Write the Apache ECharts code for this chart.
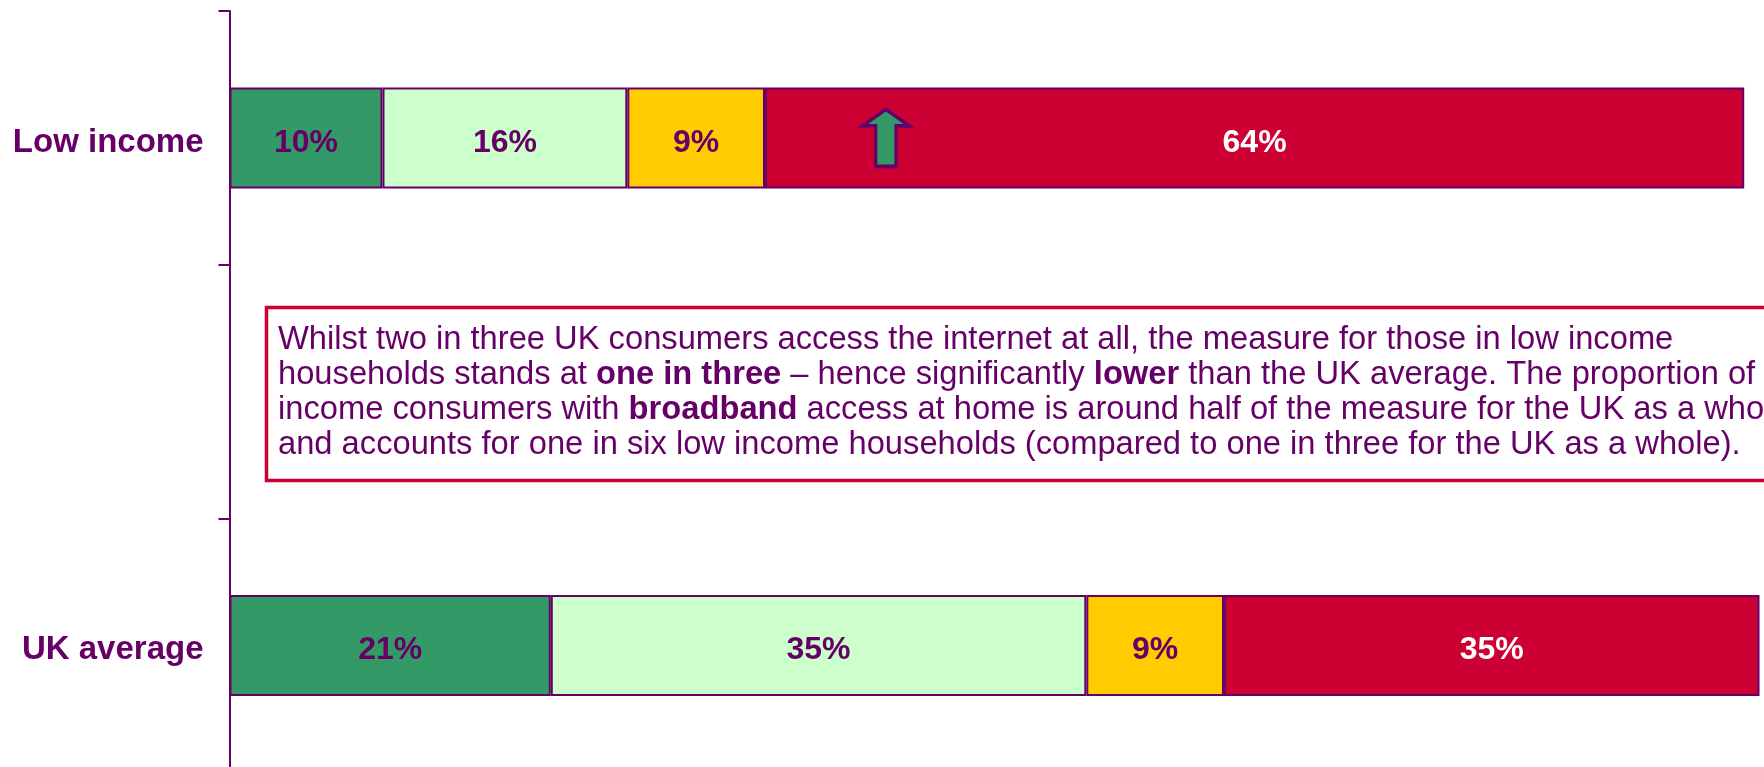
<!DOCTYPE html>
<html>
<head>
<meta charset="utf-8">
<script src="https://cdn.jsdelivr.net/npm/echarts@6/dist/echarts.min.js"></script>
<style>
  html, body { margin: 0; padding: 0; background: #ffffff; overflow: hidden; }
  #chart { width: 1764px; height: 780px; }
</style>
</head>
<body>
<div id="chart"></div>
<script>
// Category rows, bottom to top; the middle row is left empty for the note box
const categories = ['UK average', '', 'Low income'];

// Share of households in each group (%)
const darkGreenValues  = [21, '-', 10];
const lightGreenValues = [35, '-', 16];
const yellowValues     = [9,  '-', 9];
const redValues        = [35, '-', 64];

// Position of the up-arrow annotation on the Low income bar (axis units)
const arrowAt = [42.9, 'Low income'];

const PURPLE = '#660066';
const FONT = 'Arial, "Liberation Sans", sans-serif';

const noteLines = [
  'Whilst two in three UK consumers access the internet at all, the measure for those in low income',
  'households stands at {b|one in three} \u2013 hence significantly {b|lower} than the UK average. The proportion of low',
  'income consumers with {b|broadband} access at home is around half of the measure for the UK as a whole',
  'and accounts for one in six low income households (compared to one in three for the UK as a whole).'
];

function barSeries(name, values, color, labelColor, extra) {
  return Object.assign({
    name: name,
    type: 'bar',
    stack: 'total',
    barWidth: 101,
    data: values,
    itemStyle: { color: color, borderColor: PURPLE, borderWidth: 2 },
    label: {
      show: true,
      position: 'inside',
      offset: [0, 5],
      formatter: '{c}%',
      color: labelColor,
      fontFamily: FONT,
      fontWeight: 'bold',
      fontSize: 32
    },
    emphasis: { disabled: true }
  }, extra || {});
}

const chart = echarts.init(document.getElementById('chart'));
chart.setOption({
  animation: false,
  backgroundColor: '#ffffff',
  grid: { left: 229.5, right: 4.5, top: 11, height: 761.5 },
  xAxis: {
    type: 'value',
    min: 0,
    max: 100,
    show: false,
    splitLine: { show: false }
  },
  yAxis: {
    type: 'category',
    data: categories,
    axisLine: { show: true, lineStyle: { color: PURPLE, width: 2 } },
    axisTick: { show: true, length: 11, lineStyle: { color: PURPLE, width: 2 } },
    axisLabel: {
      color: PURPLE,
      fontFamily: FONT,
      fontWeight: 'bold',
      fontSize: 33,
      margin: 26,
      formatter: function (value) { return value ? '{a|' + value + '}' : ''; },
      rich: {
        a: {
          color: PURPLE,
          fontFamily: FONT,
          fontWeight: 'bold',
          fontSize: 33,
          padding: [9, 0, 0, 0]
        }
      }
    }
  },
  series: [
    barSeries('Dark green', darkGreenValues, '#339966', PURPLE),
    barSeries('Light green', lightGreenValues, '#CCFFCC', PURPLE),
    barSeries('Yellow', yellowValues, '#FFCC00', PURPLE),
    barSeries('Red', redValues, '#CC0033', '#ffffff', {
      markPoint: {
        silent: true,
        symbol: 'path://M25.5 0 L51 17 L36.5 17 L36.5 59 L14.5 59 L14.5 17 L0 17 Z',
        symbolSize: [47, 57],
        itemStyle: { color: '#339966', borderColor: PURPLE, borderWidth: 3.5 },
        label: { show: false },
        data: [{ coord: arrowAt }]
      }
    })
  ],
  graphic: [
    {
      type: 'rect',
      shape: { x: 266.5, y: 307.5, width: 1560, height: 173 },
      style: { fill: '#ffffff', stroke: '#CC0033', lineWidth: 3.5 },
      z: 10
    },
    {
      type: 'text',
      x: 278,
      y: 322,
      z: 11,
      style: {
        text: noteLines.join('\n'),
        fill: PURPLE,
        fontFamily: FONT,
        fontSize: 32.7,
        lineHeight: 35,
        verticalAlign: 'top',
        rich: {
          b: {
            fill: PURPLE,
            fontFamily: FONT,
            fontSize: 32.7,
            fontWeight: 'bold',
            lineHeight: 35
          }
        }
      }
    }
  ]
});
</script>
</body>
</html>
